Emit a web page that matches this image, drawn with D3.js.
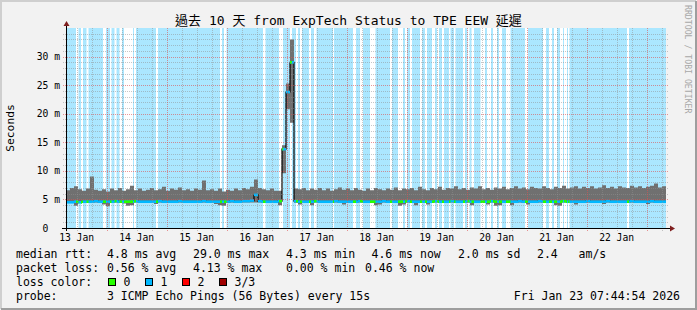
<!DOCTYPE html>
<html>
<head>
<meta charset="utf-8">
<script src="https://cdn.jsdelivr.net/npm/d3@7"></script>
<style>
body { margin: 0; background: #fff; }
text { font-family: "DejaVu Sans Mono", "Noto Sans CJK TC", monospace; fill: #000; white-space: pre; }
</style>
</head>
<body>
<div id="chart"></div>
<script>
var W = 697, H = 310;

// time window (10 days ending at the stamp)
var startTime = new Date(2026, 0, 13, 7, 44, 54),
    endTime = new Date(2026, 0, 23, 7, 44, 54);
var stepHours = 1.6; // one value per 96 minutes

var titleText = '過去 10 天 from ExpTech Status to TPE EEW 延遲';
var yTicks = [0, 5, 10, 15, 20, 25, 30];
var dayLabels = ['13 Jan', '14 Jan', '15 Jan', '16 Jan', '17 Jan', '18 Jan', '19 Jan', '20 Jan', '21 Jan', '22 Jan'];

// ms values
var smokeMax = [
  6.6, 7.0, 7.3, 6.8, 6.5, 6.9, 9.0, 6.7, 6.5, 6.8,
  6.4, 6.9, 6.6, 7.0, 6.5, 6.8, 7.4, 6.6, 6.9, 6.5,
  6.7, 7.0, 6.6, 6.8, 7.2, 6.5, 6.9, 6.7, 7.1, 6.6,
  6.8, 6.5, 6.9, 6.7, 8.3, 6.6, 6.8, 6.5, 6.9, 6.4,
  6.7, 6.5, 6.9, 6.6, 7.0, 6.8, 7.2, 8.5, 7.0, 6.8,
  6.6, 6.9, 6.5, 6.5, 14.5, 25.3, 33.0, 6.9, 6.8, 7.0,
  6.6, 6.9, 6.7, 7.0, 6.6, 6.9, 6.5, 6.8, 7.1, 6.7,
  6.9, 6.6, 7.0, 6.7, 6.5, 6.9, 6.6, 7.0, 6.8, 6.6,
  6.9, 6.7, 7.1, 6.6, 6.9, 6.8, 7.0, 6.6, 7.2, 6.8,
  6.6, 7.0, 6.8, 7.2, 6.7, 7.0, 6.9, 7.3, 6.8, 7.0,
  6.7, 7.1, 6.9, 7.3, 6.8, 7.0, 6.7, 7.1, 6.9, 7.2,
  6.8, 7.0, 7.3, 6.9, 7.1, 6.8, 7.2, 7.0, 6.9, 7.3,
  7.0, 6.8, 7.2, 7.0, 7.4, 6.9, 7.1, 7.3, 6.9, 7.2,
  7.0, 7.3, 6.9, 7.1, 7.5, 7.0, 7.2, 6.9, 7.3, 7.1,
  7.0, 7.4, 7.1, 7.3, 7.0, 7.2, 7.4, 7.8, 7.1, 7.3
];
var smokeMin = [
  4.45, 4.45, 3.9, 4.45, 4.45, 4.45, 4.45, 4.45, 4.45, 4.1,
  3.8, 4.45, 4.45, 4.45, 4.3, 3.9, 4.0, 4.45, 4.45, 4.45,
  4.45, 4.45, 4.2, 4.45, 4.45, 4.45, 4.45, 4.45, 4.45, 4.45,
  4.45, 4.45, 4.45, 4.45, 4.45, 4.45, 4.45, 4.2, 4.0, 3.9,
  4.45, 4.45, 4.45, 4.45, 4.45, 4.45, 4.45, 4.45, 4.45, 4.45,
  4.45, 4.45, 4.45, 4.0, 9.6, 20.8, 18.4, 4.4, 4.1, 4.45,
  4.45, 4.0, 4.45, 4.45, 4.45, 4.45, 4.45, 4.45, 4.45, 4.1,
  4.45, 4.45, 4.45, 4.45, 4.45, 4.45, 4.45, 4.0, 4.1, 4.45,
  4.45, 4.45, 4.45, 3.9, 4.1, 4.45, 4.45, 4.0, 4.45, 4.45,
  4.1, 4.45, 4.45, 4.45, 4.45, 4.45, 4.45, 4.45, 4.45, 4.45,
  4.45, 4.0, 4.45, 4.45, 4.45, 4.1, 4.45, 3.9, 4.0, 4.45,
  4.45, 4.0, 4.45, 4.45, 4.45, 4.1, 4.45, 4.45, 4.45, 4.45,
  4.45, 4.45, 4.0, 3.9, 4.45, 4.45, 4.45, 4.1, 4.45, 4.45,
  4.45, 4.45, 4.45, 4.45, 4.2, 4.45, 4.45, 4.45, 4.45, 4.45,
  4.45, 4.45, 4.45, 4.45, 4.45, 4.2, 4.45, 4.45, 4.45, 4.45
];
var median = [
  4.5, 4.5, 4.6, 4.5, 4.6, 4.6, 4.6, 4.7, 4.6, 4.6,
  4.6, 4.6, 4.7, 4.6, 4.6, 4.6, 4.6, 4.7, 4.6, 4.6,
  4.6, 4.6, 4.6, 4.7, 4.6, 4.6, 4.6, 4.6, 4.7, 4.6,
  4.6, 4.6, 4.6, 4.6, 4.7, 4.6, 4.6, 4.6, 4.6, 4.6,
  4.6, 4.7, 4.6, 4.6, 4.7, 4.7, 4.8, 5.8, 4.7, 4.6,
  4.6, 4.6, 4.6, 4.7, 13.8, 23.8, 29.0, 4.7, 4.6, 4.6,
  4.6, 4.6, 4.7, 4.6, 4.6, 4.6, 4.6, 4.7, 4.6, 4.6,
  4.6, 4.6, 4.6, 4.7, 4.6, 4.6, 4.6, 4.6, 4.6, 4.7,
  4.6, 4.6, 4.6, 4.6, 4.6, 4.7, 4.6, 4.6, 4.6, 4.6,
  4.6, 4.6, 4.7, 4.6, 4.6, 4.6, 4.7, 4.6, 4.6, 4.6,
  4.7, 4.6, 4.6, 4.6, 4.6, 4.6, 4.7, 4.6, 4.6, 4.6,
  4.6, 4.6, 4.6, 4.7, 4.6, 4.6, 4.6, 4.6, 4.7, 4.6,
  4.6, 4.6, 4.6, 4.6, 4.7, 4.6, 4.6, 4.6, 4.6, 4.6,
  4.7, 4.6, 4.6, 4.6, 4.6, 4.7, 4.6, 4.6, 4.6, 4.6,
  4.6, 4.7, 4.6, 4.6, 4.6, 4.6, 4.7, 4.6, 4.6, 4.6
];
// periods without loss, hours after window start (everything else lost 1/3)
var noLossHours = [
  [4.0, 5.0], [6.0, 6.8], [8.2, 9.0], [14.8, 16.0], [17.6, 18.2], [19.4, 20.2],
  [21.4, 22.4], [23.2, 26.8], [27.2, 28.0], [36.0, 36.8], [61.6, 62.4], [63.2, 64.2],
  [78.8, 79.8], [85.2, 86.8], [89.6, 90.4], [92.0, 92.8], [93.6, 94.4], [97.2, 98.0],
  [99.2, 100.2], [106.8, 107.2], [114.8, 116.0], [117.6, 118.8], [121.6, 123.8], [129.6, 130.4],
  [132.8, 134.8], [135.6, 136.4], [137.6, 138.4], [141.6, 142.4], [143.6, 144.4], [146.4, 147.6],
  [148.4, 149.2], [150.4, 151.2], [153.2, 153.8], [155.2, 155.8], [158.8, 159.6], [160.6, 161.4],
  [162.2, 163.2], [165.8, 167.6], [168.4, 170.0], [170.8, 172.4], [173.2, 174.4], [176.0, 177.8],
  [183.6, 184.8], [190.8, 192.0], [193.2, 194.4], [195.2, 196.4], [197.6, 198.8], [199.2, 200.4],
  [200.8, 201.4], [224.4, 225.2]
];

var rttStats = ['4.8 ms avg', '29.0 ms max', '4.3 ms min', '4.6 ms now', '2.0 ms sd', '2.4   am/s'];
var lossStats = ['0.56 % avg', '4.13 % max', '0.00 % min', '0.46 % now'];
var lossLevels = ['0', '1', '2', '3/3'];
var lossColors = ['#26ff00', '#00b8ff', '#ff0000', '#a00000'];
var probeText = '3 ICMP Echo Pings (56 Bytes) every 15s';
var stampText = 'Fri Jan 23 07:44:54 2026';

var lossBg = '#abe7ff', smokeColor = '#707070';

function hoursAfter(h) { return new Date(startTime.getTime() + h * 3600e3); }

var svg = d3.select('#chart').append('svg')
    .attr('width', W).attr('height', H);

// frame
svg.append('rect').attr('width', W).attr('height', H).attr('fill', '#f2f2f2');
svg.append('path').attr('d', 'M1,' + (H - 1) + 'V1H' + (W - 1))
    .attr('fill', 'none').attr('stroke', '#cfcfcf').attr('stroke-width', 2);
svg.append('path').attr('d', 'M1,' + (H - 1) + 'H' + (W - 1) + 'V1')
    .attr('fill', 'none').attr('stroke', '#9e9e9e').attr('stroke-width', 2);

var x = d3.scaleTime().domain([startTime, endTime]).range([66, 666]),
    y = d3.scaleLinear().domain([0, 35]).range([228, 28]);

// canvas with loss background
svg.append('rect').attr('x', 66).attr('y', 28).attr('width', 600).attr('height', 200).attr('fill', lossBg);
svg.append('g').selectAll('rect')
    .data(noLossHours)
    .enter().append('rect')
    .attr('x', function(d){ return x(hoursAfter(d[0])); })
    .attr('width', function(d){ return x(hoursAfter(d[1])) - x(hoursAfter(d[0])); })
    .attr('y', 28).attr('height', 200)
    .attr('fill', '#fff');

// bucket table
var pts = median.map(function(m, i){
    return {t: hoursAfter(i * stepHours), t1: hoursAfter((i + 1) * stepHours), lo: smokeMin[i], hi: smokeMax[i], med: m};
});
var last = pts[pts.length - 1];
var ptsEnd = pts.concat([{t: endTime, lo: last.lo, hi: last.hi, med: last.med}]);

// smoke
var smoke = d3.area()
    .x(function(d){ return x(d.t); })
    .y0(function(d){ return y(d.lo); })
    .y1(function(d){ return y(d.hi); })
    .curve(d3.curveStepAfter);
svg.append('path').datum(ptsEnd).attr('d', smoke).attr('fill', smokeColor);

// median: thin black step line, then loss-coloured band on top
var medLine = d3.line()
    .x(function(d){ return x(d.t); })
    .y(function(d){ return y(d.med); })
    .curve(d3.curveStepAfter);
svg.append('path').datum(ptsEnd).attr('d', medLine)
    .attr('fill', 'none').attr('stroke', '#000').attr('stroke-width', 1.2);

var band = svg.append('g');
pts.forEach(function(p){
    band.append('rect')
        .attr('x', x(p.t)).attr('width', x(p.t1) - x(p.t))
        .attr('y', y(p.med) - 1.3).attr('height', 2.6)
        .attr('fill', lossColors[1]);
    noLossHours.forEach(function(s){
        var a = Math.max(+hoursAfter(s[0]), +p.t), b = Math.min(+hoursAfter(s[1]), +p.t1);
        if (b > a) {
            band.append('rect')
                .attr('x', x(a)).attr('width', x(b) - x(a))
                .attr('y', y(p.med) - 1.3).attr('height', 2.6)
                .attr('fill', lossColors[0]);
        }
    });
});

// grid (dotted, drawn over the graph like rrdtool)
var grid = svg.append('g').attr('fill', 'none').attr('stroke-dasharray', '1,1');
d3.range(1, 35).forEach(function(v){
    var yy = Math.round(y(v)) + 0.5;
    grid.append('line').attr('x1', 63).attr('x2', 669).attr('y1', yy).attr('y2', yy)
        .attr('stroke', v % 5 === 0 ? 'rgba(222,80,80,0.6)' : 'rgba(143,143,143,0.5)');
});
d3.timeHour.every(6).range(startTime, endTime).forEach(function(t){
    var xx = Math.round(x(t)) + 0.5, major = t.getHours() === 0;
    grid.append('line').attr('x1', xx).attr('x2', xx).attr('y1', 28).attr('y2', 231)
        .attr('stroke', major ? 'rgba(222,80,80,0.6)' : 'rgba(143,143,143,0.5)');
});

// axes
svg.append('line').attr('x1', 62).attr('x2', 670).attr('y1', 228.5).attr('y2', 228.5).attr('stroke', '#000');
svg.append('line').attr('x1', 66.5).attr('x2', 66.5).attr('y1', 231).attr('y2', 25).attr('stroke', '#000');
svg.append('path').attr('d', 'M670,225.5L675,228.5L670,231.5Z').attr('fill', '#7f1f1f');
svg.append('path').attr('d', 'M63.5,26L66.5,21L69.5,26Z').attr('fill', '#7f1f1f');

// axis labels
svg.append('g').selectAll('text')
    .data(yTicks).enter().append('text')
    .attr('x', 60).attr('y', function(d){ return y(d) + 3.5; })
    .attr('text-anchor', 'end').attr('font-size', 9.7)
    .text(function(d){ return d === 0 ? '0\u00a0\u00a0' : d + ' m'; });

svg.append('g').selectAll('text')
    .data(dayLabels).enter().append('text')
    .attr('x', function(d, i){ return x(new Date(2026, 0, 13 + i, 12)); })
    .attr('y', 241).attr('text-anchor', 'middle').attr('font-size', 9.7)
    .text(function(d){ return d; });

svg.append('text').attr('transform', 'translate(14,128) rotate(-90)')
    .attr('text-anchor', 'middle').attr('font-size', 11.3).text('Seconds');

svg.append('text').attr('x', 348.5).attr('y', 25).attr('text-anchor', 'middle')
    .attr('font-size', 13).text(titleText);

svg.append('text').attr('transform', 'translate(685,5) rotate(90)')
    .attr('font-size', 8.2).style('fill', '#a8a8a8').text('RRDTOOL / TOBI OETIKER');

// legend
var lf = 11.5;
function leg(tx, lx, ly) {
    svg.append('text').attr('x', lx).attr('y', ly).attr('font-size', lf).text(tx);
}
leg('median rtt:', 16, 258);
[107, 193, 286, 371.5, 458, 537].forEach(function(lx, i){ leg(rttStats[i], lx, 258); });
leg('packet loss:', 16, 272);
[107, 193, 286, 365].forEach(function(lx, i){ leg(lossStats[i], lx, 272); });
leg('loss color:', 16, 286);
[108.5, 145.5, 182.5, 219.5].forEach(function(lx, i){
    svg.append('rect').attr('x', lx).attr('y', 278.5).attr('width', 7).attr('height', 7)
        .attr('fill', lossColors[i]).attr('stroke', '#000');
    leg(lossLevels[i], lx + 15, 286);
});
leg('probe:', 16, 300);
leg(probeText, 107, 300);
svg.append('text').attr('x', 680).attr('y', 300).attr('text-anchor', 'end')
    .attr('font-size', lf).text(stampText);
</script>
</body>
</html>
